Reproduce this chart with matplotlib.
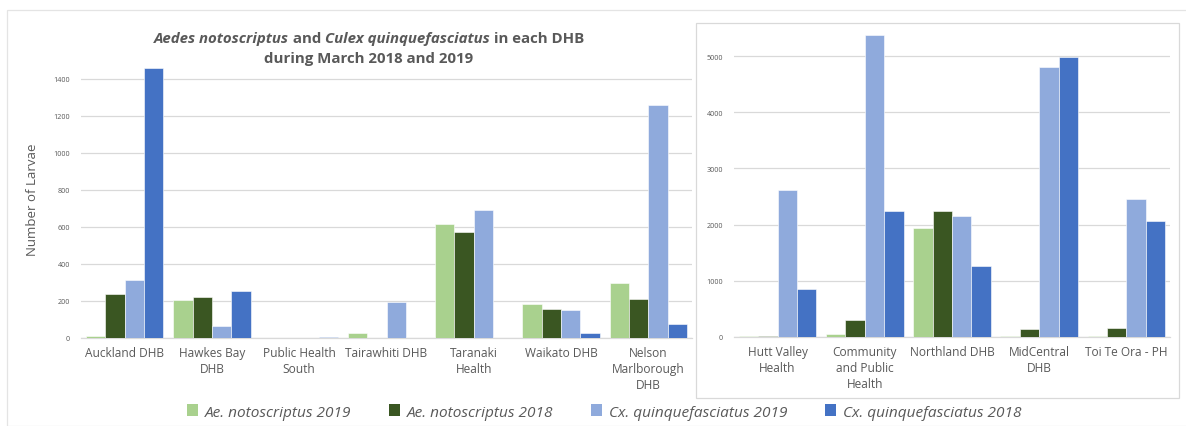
import numpy as np
import matplotlib
matplotlib.use('Agg')
import matplotlib.pyplot as plt
from matplotlib.patches import Rectangle, Patch
from matplotlib.offsetbox import TextArea, HPacker, VPacker, AnchoredOffsetbox

plt.rcParams['font.family'] = ['Open Sans', 'DejaVu Sans']

# --- data ---
left_cats = ['Auckland DHB', 'Hawkes Bay\nDHB', 'Public Health\nSouth', 'Tairawhiti DHB',
             'Taranaki\nHealth', 'Waikato DHB', 'Nelson\nMarlborough\nDHB']
left_ae19 = [12, 205, 0, 27, 615, 183, 297]
left_ae18 = [240, 219, 0, 0, 573, 156, 210]
left_cx19 = [314, 65, 0, 193, 692, 151, 1257]
left_cx18 = [1458, 253, 7, 0, 0, 29, 75]

right_cats = ['Hutt Valley\nHealth', 'Community\nand Public\nHealth', 'Northland DHB',
              'MidCentral\nDHB', 'Toi Te Ora - PH']
right_ae19 = [5, 48, 1939, 5, 5]
right_ae18 = [10, 298, 2236, 131, 160]
right_cx19 = [2617, 5382, 2153, 4805, 2450]
right_cx18 = [845, 2236, 1267, 4978, 2064]

series_names = ['Ae. notoscriptus 2019', 'Ae. notoscriptus 2018',
                'Cx. quinquefasciatus 2019', 'Cx. quinquefasciatus 2018']
colors = ['#A9D18E', '#3A5622', '#8FAADC', '#4472C4']
TXT = '#595959'
GRID = '#D9D9D9'

W, H = 1186, 427
fig = plt.figure(figsize=(W / 100, H / 100), dpi=100)


def fx(px):
    return px / W


def fy(py):
    return 1 - py / H


def draw_group(ax, cats, series, ymax, yticks):
    x = np.arange(len(cats))
    bw = 0.222
    for i, (vals, c) in enumerate(zip(series, colors)):
        ax.bar(x + (i - 1.5) * bw, vals, bw, color=c, edgecolor='white',
               linewidth=0.4, zorder=3)
    ax.set_xlim(-0.5, len(cats) - 0.5)
    ax.set_ylim(0, ymax)
    ax.set_yticks(yticks)
    ax.set_xticks(x)
    ax.set_xticklabels(cats, fontsize=8.6, color=TXT, linespacing=1.3)
    ax.tick_params(axis='y', labelsize=5.2, labelcolor=TXT, length=0, pad=8)
    ax.tick_params(axis='x', length=0, pad=6)
    ax.grid(axis='y', color=GRID, linewidth=0.9, zorder=0)
    for s in ['top', 'right', 'left']:
        ax.spines[s].set_visible(False)
    ax.spines['bottom'].set_color(GRID)
    ax.spines['bottom'].set_linewidth(0.9)
    ax.set_facecolor('none')


# left chart
ax1 = fig.add_axes([fx(81), fy(339), fx(692 - 81), (339 - 61) / H])
draw_group(ax1, left_cats, [left_ae19, left_ae18, left_cx19, left_cx18],
           1500, np.arange(0, 1401, 200))
ax1.set_ylabel('Number of Larvae', fontsize=9.5, color=TXT, labelpad=10)

# right chart
ax2 = fig.add_axes([fx(734), fy(337.7), fx(1170 - 734), (337.7 - 32) / H])
draw_group(ax2, right_cats, [right_ae19, right_ae18, right_cx19, right_cx18],
           5450, np.arange(0, 5001, 1000))

# borders
fig.add_artist(Rectangle((fx(7), fy(427)), fx(1186 - 7) + 0.01, (427 - 11) / H,
                         transform=fig.transFigure, fill=False, edgecolor='#E4E4E4',
                         linewidth=0.9))
fig.add_artist(Rectangle((fx(696), fy(399)), fx(1179 - 696), (399 - 24) / H,
                         transform=fig.transFigure, fill=False, edgecolor='#D9D9D9',
                         linewidth=0.9))

# title with mixed italic / bold
tprops = dict(fontsize=10.8, color=TXT, fontweight='bold')
line1 = HPacker(children=[
    TextArea('Aedes notoscriptus', textprops=dict(tprops, fontstyle='italic')),
    TextArea(' and ', textprops=tprops),
    TextArea('Culex quinquefasciatus', textprops=dict(tprops, fontstyle='italic')),
    TextArea(' in each DHB', textprops=tprops),
], sep=0, align='baseline', pad=0)
line2 = TextArea('during March 2018 and 2019', textprops=tprops)
title = VPacker(children=[line1, line2], sep=5, align='center', pad=0)
fig.add_artist(AnchoredOffsetbox(loc='center', child=title, frameon=False, pad=0,
                                 bbox_to_anchor=(fx(369), fy(49)),
                                 bbox_transform=fig.transFigure))

# legend
handles = [Patch(facecolor=c, edgecolor='none') for c in colors]
fig.legend(handles, series_names, loc='center', bbox_to_anchor=(fx(604), fy(413)),
           ncol=4, frameon=False, handlelength=0.75, handleheight=0.75,
           handletextpad=0.4, columnspacing=2.45,
           prop=dict(size=11.1, style='italic'), labelcolor=TXT)

fig.savefig('out.png', dpi=100, facecolor='white')
